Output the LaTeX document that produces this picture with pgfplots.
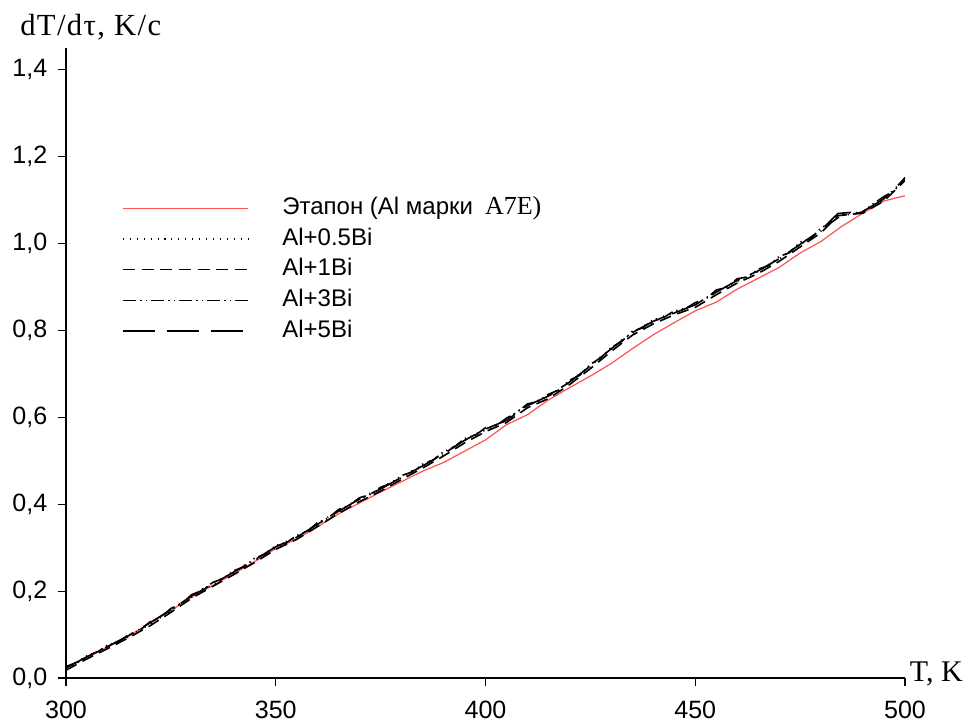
\documentclass[border=0pt]{standalone}
\usepackage{fontspec}
\setmainfont{Liberation Sans}
\newfontfamily\tnr{Liberation Serif}
\newfontfamily\tnrwide[LetterSpace=4.5]{Liberation Serif}
\usepackage{pgfplots}
\pgfplotsset{compat=1.18}
\usepackage{pgfplotstable}

\definecolor{etalon}{rgb}{1,0.32,0.32}

% Эталон (Al A7E)
\pgfplotstableread{
T v
300 0.025
305 0.047
310 0.071
315 0.097
320 0.126
325 0.155
330 0.187
335 0.213
340 0.240
345 0.268
350 0.298
355 0.320
360 0.348
365 0.378
370 0.403
375 0.428
380 0.452
385 0.476
390 0.496
395 0.522
400 0.548
405 0.583
410 0.606
415 0.640
420 0.668
425 0.695
430 0.724
435 0.758
440 0.790
445 0.818
450 0.845
455 0.865
460 0.895
465 0.920
470 0.945
475 0.978
480 1.005
485 1.040
490 1.070
495 1.098
500 1.110
}\etalon

% Al+0.5Bi
\pgfplotstableread{
T v
300 0.020
302.5 0.034
305 0.045
307.5 0.062
310 0.070
312.5 0.086
315 0.094
317.5 0.112
320 0.122
322.5 0.142
325 0.153
327.5 0.174
330 0.186
332.5 0.205
335 0.214
337.5 0.232
340 0.241
342.5 0.259
345 0.269
347.5 0.289
350 0.299
352.5 0.314
355 0.322
357.5 0.341
360 0.352
362.5 0.371
365 0.382
367.5 0.400
370 0.409
372.5 0.425
375 0.433
377.5 0.452
380 0.460
382.5 0.477
385 0.486
387.5 0.505
390 0.514
392.5 0.534
395 0.546
397.5 0.562
400 0.570
402.5 0.582
405 0.592
407.5 0.614
410 0.626
412.5 0.639
415 0.647
417.5 0.666
420 0.679
422.5 0.700
425 0.716
427.5 0.740
430 0.757
432.5 0.778
435 0.793
437.5 0.810
440 0.819
442.5 0.833
445 0.840
447.5 0.852
450 0.858
452.5 0.875
455 0.887
457.5 0.902
460 0.913
462.5 0.926
465 0.935
467.5 0.952
470 0.964
472.5 0.982
475 0.996
477.5 1.014
480 1.029
482.5 1.052
485 1.068
487.5 1.070
490 1.074
492.5 1.086
495 1.102
497.5 1.126
500 1.148
}\bihalf

% Al+1Bi
\pgfplotstableread{
T v
300 0.018
305 0.044
310 0.068
315 0.093
320 0.120
325 0.151
330 0.184
335 0.211
340 0.238
345 0.266
350 0.296
355 0.319
360 0.349
365 0.379
370 0.406
375 0.430
380 0.457
385 0.483
390 0.511
395 0.541
400 0.567
405 0.588
410 0.622
415 0.643
420 0.675
425 0.712
430 0.752
435 0.789
440 0.815
445 0.836
450 0.853
455 0.882
460 0.909
465 0.931
470 0.959
475 0.992
480 1.025
484 1.064
490 1.070
495 1.098
500 1.145
}\bione

% Al+3Bi
\pgfplotstableread{
T v
300 0.026
302.5 0.036
305 0.051
307.5 0.060
310 0.076
312.5 0.083
315 0.100
317.5 0.109
320 0.129
322.5 0.139
325 0.160
327.5 0.171
330 0.192
332.5 0.202
335 0.220
337.5 0.229
340 0.247
342.5 0.256
345 0.276
347.5 0.285
350 0.305
352.5 0.311
355 0.328
357.5 0.337
360 0.358
362.5 0.368
365 0.388
367.5 0.397
370 0.415
372.5 0.422
375 0.439
377.5 0.448
380 0.466
382.5 0.474
385 0.492
387.5 0.501
390 0.521
392.5 0.531
395 0.551
397.5 0.558
400 0.576
402.5 0.580
405 0.598
407.5 0.611
410 0.631
412.5 0.636
415 0.653
417.5 0.663
420 0.685
422.5 0.697
425 0.722
427.5 0.737
430 0.761
432.5 0.775
435 0.798
437.5 0.806
440 0.825
442.5 0.830
445 0.845
447.5 0.849
450 0.864
452.5 0.872
455 0.893
457.5 0.899
460 0.919
462.5 0.923
465 0.941
467.5 0.949
470 0.970
472.5 0.979
475 1.003
477.5 1.011
480 1.036
482.5 1.049
485 1.066
487.5 1.067
490 1.073
492.5 1.092
495 1.108
497.5 1.122
500 1.152
}\bithree

% Al+5Bi
\pgfplotstableread{
T v
300 0.023
305 0.049
310 0.073
315 0.098
320 0.127
325 0.157
330 0.189
335 0.216
340 0.244
345 0.272
350 0.302
355 0.324
360 0.354
365 0.384
370 0.412
375 0.435
380 0.462
385 0.488
390 0.516
395 0.547
400 0.573
405 0.593
410 0.627
415 0.649
420 0.681
425 0.718
430 0.758
435 0.795
440 0.821
445 0.840
450 0.859
455 0.888
460 0.915
465 0.937
470 0.965
475 0.998
480 1.031
484 1.069
490 1.074
495 1.103
500 1.150
}\bifive

\begin{document}
\begin{tikzpicture}
\begin{axis}[
  at={(0,0)}, anchor=south west,
  scale only axis,
  width=629.25pt, height=472.5pt,
  xmin=300, xmax=500, ymin=0, ymax=1.45,
  axis lines=left,
  axis line style={-, line width=0.9pt},
  tick style={line width=0.9pt, black},
  tick align=outside,
  major tick length=6pt,
  xtick={300,350,...,500},
  ytick={0,0.2,...,1.41},
  font=\fontsize{18.8}{22}\selectfont,
  /pgf/number format/assume math mode=true,
  xticklabel style={yshift=-8pt, /pgf/number format/.cd, set thousands separator={}},
  yticklabel style={xshift=-4.5pt, /pgf/number format/.cd, fixed, fixed zerofill, precision=1, use comma},
  yticklabel={\pgfmathprintnumber{\tick}},
  xtick pos=bottom, ytick pos=left,
  every axis y label/.style={at={(axis description cs:0,1)}, anchor=base west, inner sep=0pt, xshift=-34.5pt, yshift=9pt},
  every axis x label/.style={at={(axis description cs:1,0)}, anchor=base west, inner sep=0pt, xshift=3.5pt, yshift=-2.5pt},
  ylabel={\tnrwide\fontsize{23}{26}\selectfont dT/dτ, K/c},
  xlabel={\tnr\fontsize{22.5}{26}\selectfont T, K},
  legend style={draw=none, fill=none, at={(0.062,0.768)}, anchor=north west,
    row sep=6pt, nodes={inner sep=0pt, text height=13pt, text depth=4pt, font=\fontsize{18}{21}\selectfont}},
  legend cell align=left,
  legend image code/.code={\draw[#1, line width=0.9pt] (0pt,0pt) -- (94pt,0pt); \path (119pt,0pt);},
]
\addplot[etalon, line width=0.9pt] table[x=T, y=v] {\etalon};
\addlegendentry{Этапон (Al марки\hspace{9pt}{\tnr\fontsize{19.5}{22}\selectfont A7E)}}
\addplot[black, line width=1.2pt, dash pattern=on 0.8pt off 4.4pt] table[x=T, y=v] {\bihalf};
\addlegendentry{Al+0.5Bi}
\addplot[black, line width=1.2pt, dash pattern=on 9pt off 5pt] table[x=T, y=v] {\bione};
\addlegendentry{Al+1Bi}
\addplot[black, line width=1.2pt, dash pattern=on 10pt off 3pt on 1pt off 3pt on 1pt off 3pt] table[x=T, y=v] {\bithree};
\addlegendentry{Al+3Bi}
\addplot[black, line width=1.2pt, dash pattern=on 24pt off 9pt] table[x=T, y=v] {\bifive};
\addlegendentry{Al+5Bi}
\end{axis}
\path (-49.5pt,-33pt) rectangle (678.75pt,508.5pt);
\end{tikzpicture}
\end{document}
